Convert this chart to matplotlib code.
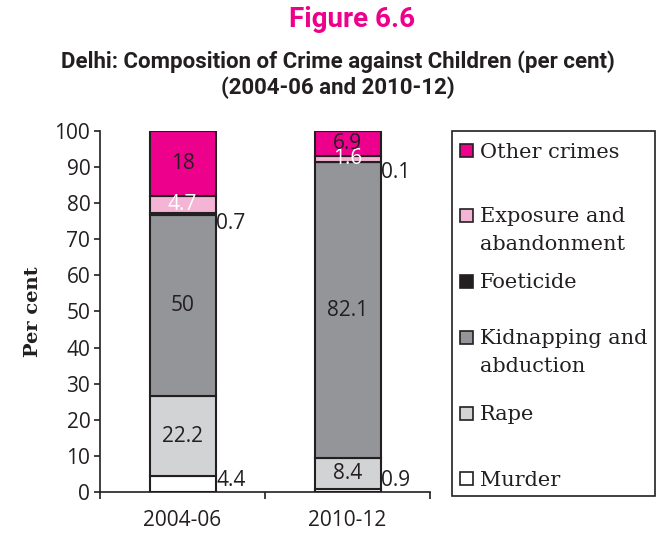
import matplotlib.pyplot as plt
from matplotlib.patches import Rectangle
import numpy as np

# data (per cent), stacked bottom to top
periods = ['2004-06', '2010-12']
crimes = ['Murder', 'Rape', 'Kidnapping and\nabduction', 'Foeticide',
          'Exposure and\nabandonment', 'Other crimes']
murder = [4.4, 0.9]
rape = [22.2, 8.4]
kidnapping = [50, 82.1]
foeticide = [0.7, 0.1]
exposure = [4.7, 1.6]
other = [18, 6.9]

colors = ['#ffffff', '#d1d3d4', '#939598', '#231f20', '#f4b4d4', '#ec008c']
text_colors = ['#231f20', '#231f20', '#231f20', '#231f20', '#ffffff', '#231f20']
outside = [True, False, False, True, False, False]

series = [murder, rape, kidnapping, foeticide, exposure, other]
edge = '#231f20'
num_font = 'Open Sans'
title_font = 'Roboto'

fig = plt.figure(figsize=(6.58, 5.34), dpi=100)
ax = fig.add_axes([0.152, 0.0787, 0.5015, 0.676])

x = np.arange(len(periods))
width = 0.4
bottom = np.zeros(len(periods))
for vals, col, tcol, out in zip(series, colors, text_colors, outside):
    vals = np.array(vals, dtype=float)
    ax.bar(x, vals, width, bottom=bottom, color=col, edgecolor=edge,
           linewidth=1.5, zorder=3)
    for xi, v, b in zip(x, vals, bottom):
        if out:
            if b == 0:
                ax.text(xi + width / 2 + 0.005, 0.2, f'{v:g}', ha='left', va='bottom',
                        fontsize=15, family=num_font, color='#231f20')
            else:
                ax.text(xi + width / 2 + 0.005, b + v, f'{v:g}', ha='left', va='top',
                        fontsize=15, family=num_font, color='#231f20')
        else:
            ax.text(xi, b + v / 2, f'{v:g}', ha='center', va='center',
                    fontsize=15, family=num_font, color=tcol, zorder=4)
    bottom += vals

ax.set_xlim(-0.5, 1.5)
ax.set_ylim(0, 100)
ax.set_yticks(range(0, 101, 10))
ax.set_xticks([-0.5, 0.5, 1.5])
ax.set_xticklabels([])
ax.set_xticks(x, minor=True)
ax.set_xticklabels(periods, minor=True)
ax.tick_params(axis='x', which='major', direction='out', length=5, width=1.2, color=edge)
ax.tick_params(axis='x', which='minor', length=0, pad=13, labelsize=15, labelcolor='#231f20')
ax.tick_params(axis='y', direction='out', length=4, width=1.2, color=edge,
               labelsize=15, labelcolor='#231f20', pad=3)
for lab in ax.get_xticklabels(minor=True) + ax.get_yticklabels():
    lab.set_family(num_font)
for s in ['top', 'right']:
    ax.spines[s].set_visible(False)
for s in ['left', 'bottom']:
    ax.spines[s].set_color(edge)
    ax.spines[s].set_linewidth(1.2)

ax.set_ylabel('Per cent', fontsize=14, fontweight='bold', family='DejaVu Serif',
              color='#231f20', labelpad=9)

# titles
fig.text(0.535, 0.964, 'Figure 6.6', ha='center', va='center', fontsize=20,
         fontweight='bold', family=title_font, color='#ec008c')
fig.text(0.514, 0.884, 'Delhi: Composition of Crime against Children (per cent)',
         ha='center', va='center', fontsize=16, fontweight='bold', family=title_font,
         color='#231f20')
fig.text(0.514, 0.835, '(2004-06 and 2010-12)', ha='center', va='center',
         fontsize=16, fontweight='bold', family=title_font, color='#231f20')

# legend box drawn in figure pixels
W, H = 658, 534
fig.patches.append(Rectangle((452 / W, 1 - 496 / H), 203 / W, 365 / H,
                             transform=fig.transFigure, fill=False,
                             edgecolor=edge, linewidth=1.2))
entry_y = [150, 215, 281, 337, 413, 478]
legend_order = list(range(len(crimes)))[::-1]
for yy, i in zip(entry_y, legend_order):
    fig.patches.append(Rectangle((460 / W, 1 - (yy + 6.5) / H), 13 / W, 13 / H,
                                 transform=fig.transFigure, facecolor=colors[i],
                                 edgecolor=edge, linewidth=1.2))
    for k, line in enumerate(crimes[i].split('\n')):
        fig.text(480 / W, 1 - (yy + 28 * k) / H, line, ha='left', va='center_baseline',
                 fontsize=15, family='DejaVu Serif', color='#231f20')

fig.savefig('out.png', dpi=100)
